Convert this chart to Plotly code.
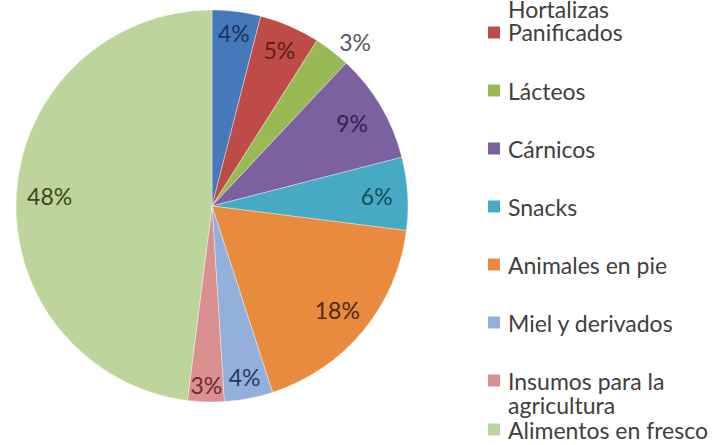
import plotly.graph_objects as go

# ---- data ----
labels = ["Frutas y Hortalizas", "Panificados", "Lácteos", "Cárnicos", "Snacks",
          "Animales en pie", "Miel y derivados", "Insumos para la agricultura",
          "Alimentos en fresco"]
legend_text = ["Frutas y<br>Hortalizas", "Panificados", "Lácteos", "Cárnicos", "Snacks",
               "Animales en pie", "Miel y derivados", "Insumos para la<br>agricultura",
               "Alimentos en fresco"]
values = [4, 5, 3, 9, 6, 18, 4, 3, 48]

# ---- styles ----
colors = ["#4679B9", "#BE4B48", "#98B954", "#7D60A0", "#46AAC5",
          "#E88B3E", "#93AFDB", "#DA9090", "#BDD49C"]
text_colors = ["#1B3560", "#5E1F1D", "#595959", "#33234D", "#1A4A55",
               "#4D2A10", "#1F3B63", "#6B2E2C", "#3B4A1E"]
text_pos = ["inside", "inside", "outside", "inside", "inside",
            "inside", "inside", "inside", "inside"]

W, H = 720, 445
FONT = "Lato"
cx, cy, R = 212, 206, 196
dom_x = [(cx - R) / W, (cx + R) / W]
dom_y = [1 - (cy + R) / H, 1 - (cy - R) / H]

fig = go.Figure()
fig.add_trace(go.Pie(
    labels=labels, values=values, sort=False, direction="clockwise", rotation=0,
    marker=dict(colors=colors, line=dict(color="rgba(255,255,255,0.45)", width=0.8)),
    textinfo="none", hoverinfo="label+percent", showlegend=False,
    domain=dict(x=dom_x, y=dom_y),
))
# transparent ring carrying the percentage labels (places text near the rim)
fig.add_trace(go.Pie(
    labels=labels, values=values, sort=False, direction="clockwise", rotation=0,
    hole=0.66,
    marker=dict(colors=["rgba(0,0,0,0)"] * len(values), line=dict(width=0)),
    texttemplate="%{value}%", textposition=text_pos,
    insidetextorientation="horizontal",
    textfont=dict(family=FONT, size=23, color=text_colors),
    outsidetextfont=dict(family=FONT, size=23, color="#595959"),
    hoverinfo="skip", showlegend=False,
    domain=dict(x=dom_x, y=dom_y),
))

# ---- manual legend (Excel-style, top entry partially cut off) ----
slot_y = [8.5 - 24, 32.5, 90.5, 148.5, 206.5, 264.5, 322.5, 380.5, 429.5]
line_h = 24
shapes, annotations = [], []
for i, txt in enumerate(legend_text):
    y0 = slot_y[i]
    shapes.append(dict(type="rect", xref="paper", yref="paper",
                       x0=488 / W, x1=500 / W,
                       y0=1 - (y0 + 6) / H, y1=1 - (y0 - 6) / H,
                       fillcolor=colors[i], line=dict(width=0)))
    for k, line in enumerate(txt.split("<br>")):
        annotations.append(dict(text=line, xref="paper", yref="paper",
                                x=506 / W, y=1 - (y0 + k * line_h) / H,
                                xanchor="left", yanchor="middle", showarrow=False,
                                font=dict(family=FONT, size=23, color="#404040")))

fig.update_layout(
    width=W, height=H,
    margin=dict(l=0, r=0, t=0, b=0, autoexpand=False),
    paper_bgcolor="white", plot_bgcolor="white",
    uniformtext=dict(minsize=23, mode="show"),
    shapes=shapes, annotations=annotations,
)
fig.write_html("out.html", config={"displayModeBar": False},
               post_script="document.body.style.margin='0';document.body.style.overflow='hidden';")
